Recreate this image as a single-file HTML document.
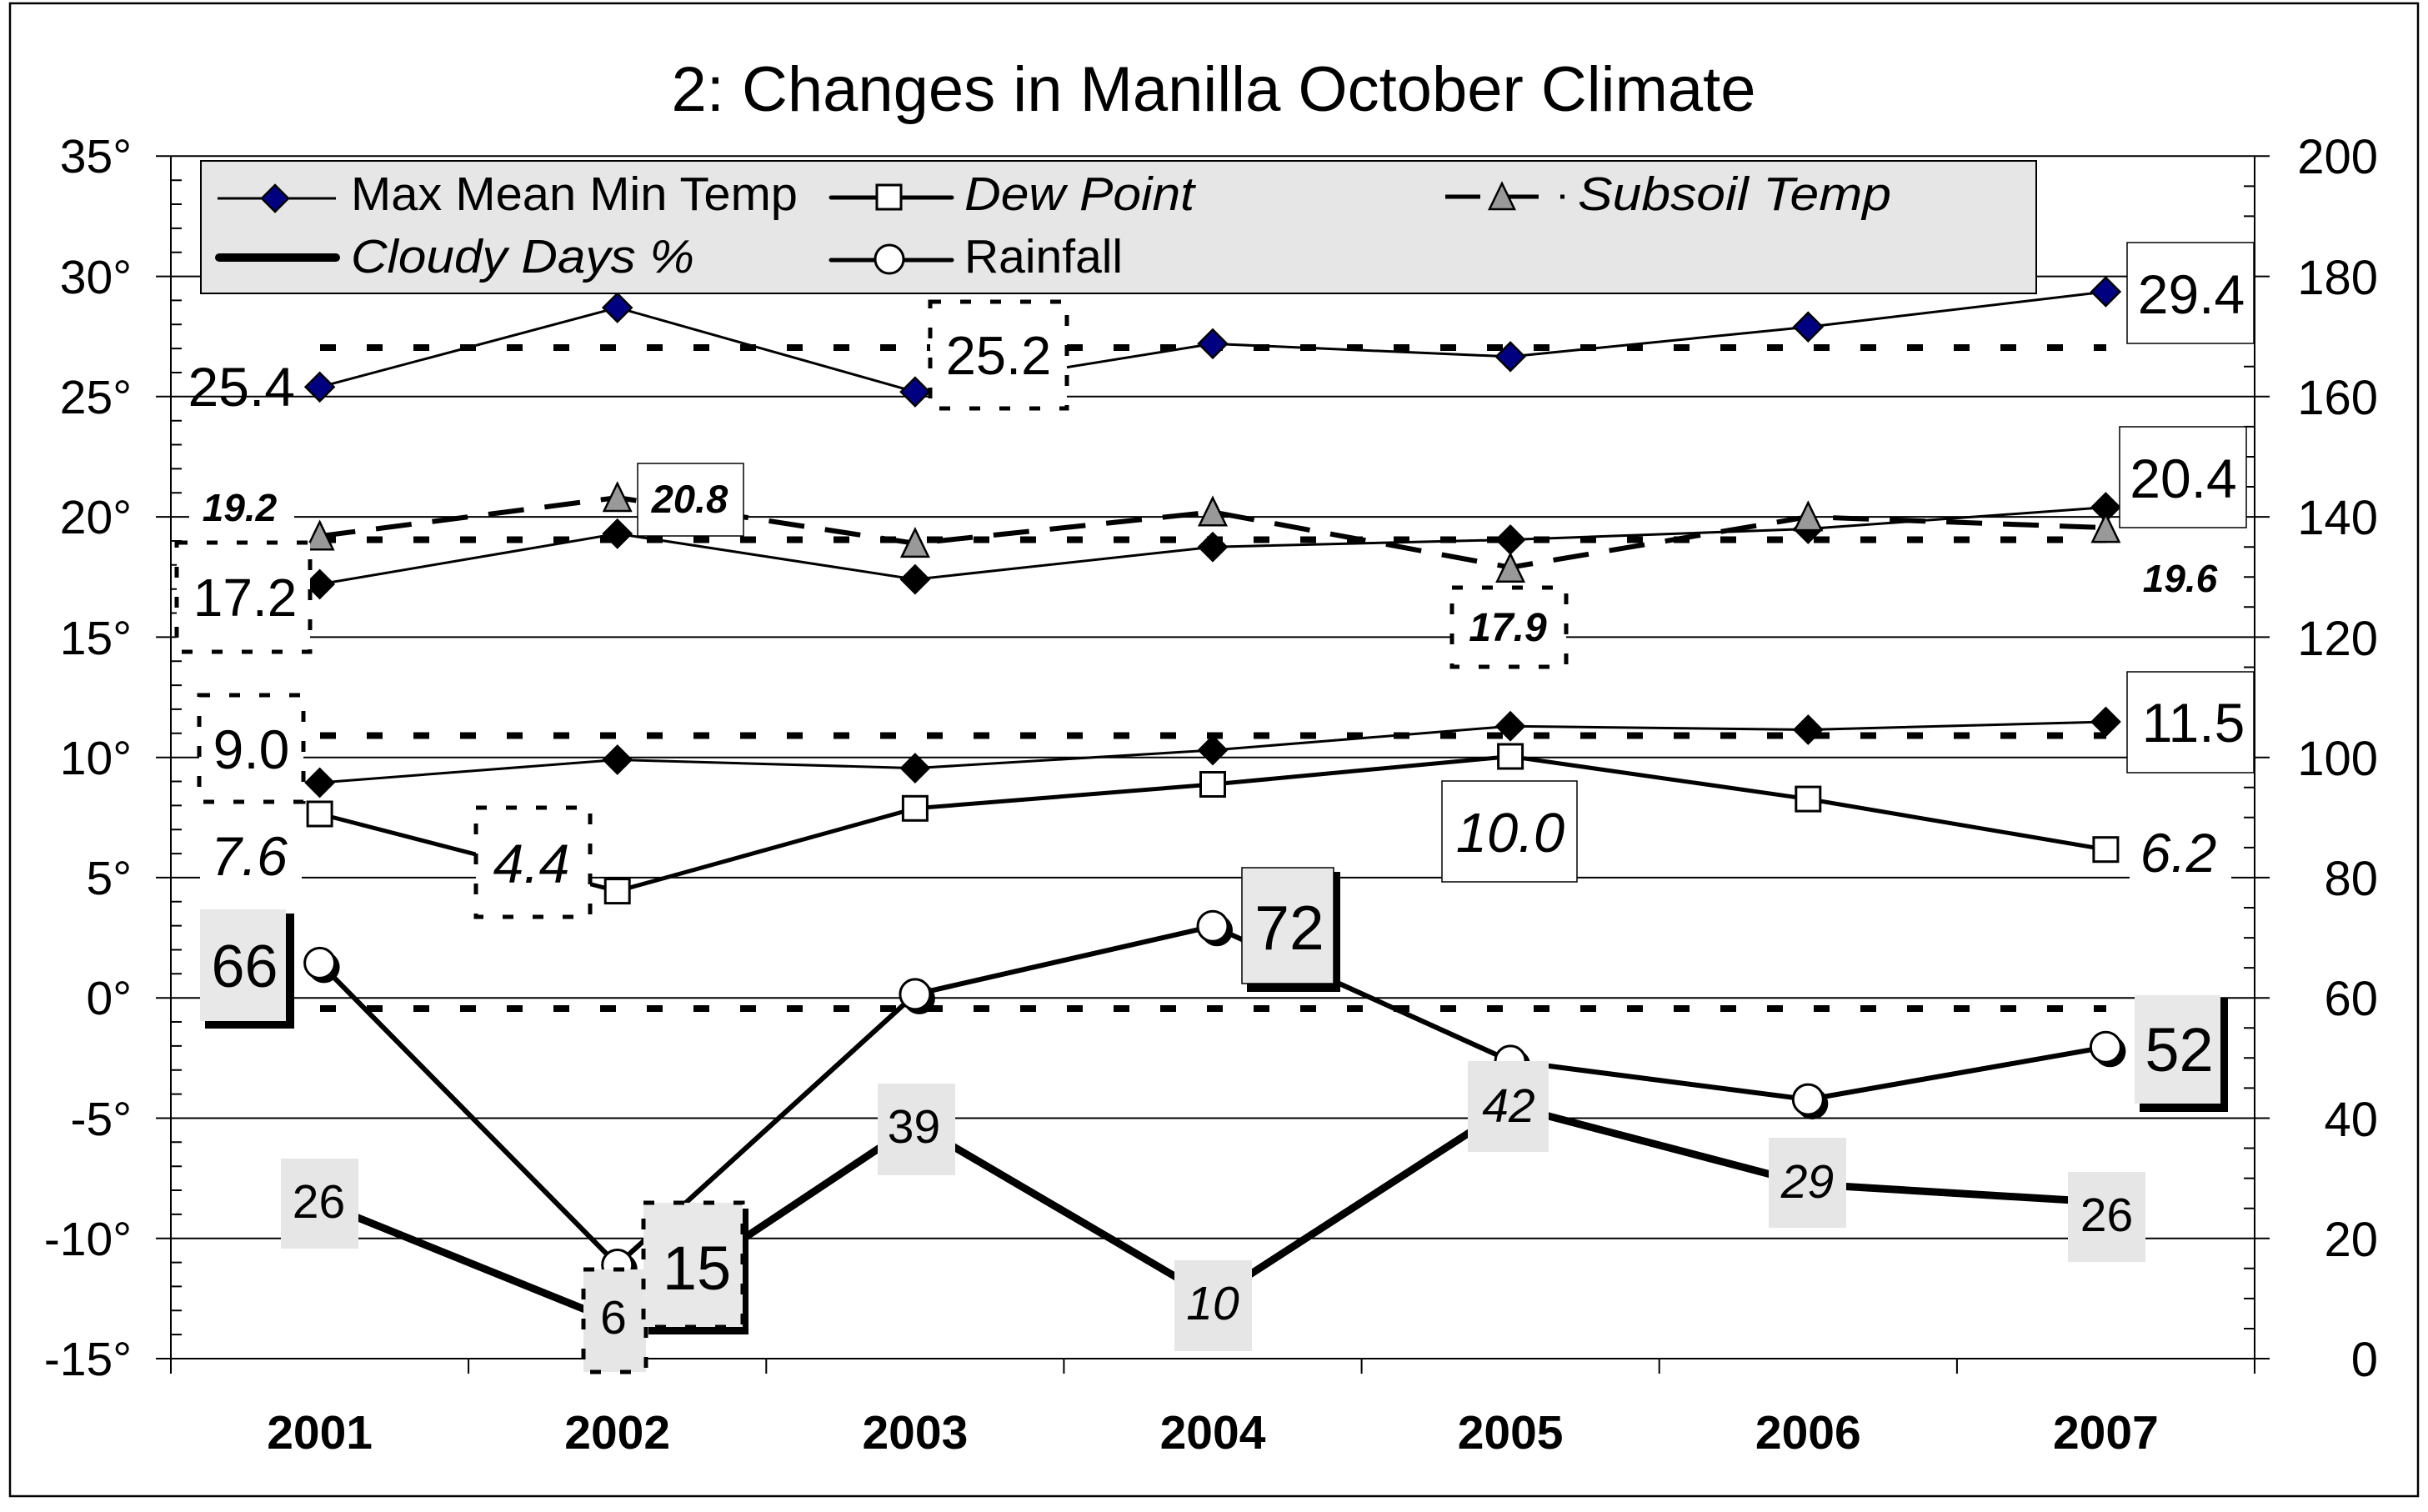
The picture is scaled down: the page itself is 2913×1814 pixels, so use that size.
<!DOCTYPE html>
<html>
<head>
<meta charset="utf-8">
<style>
html,body{margin:0;padding:0;background:#fff;}
svg{display:block;}
text{font-family:"Liberation Sans",Arial,sans-serif;fill:#000;}
</style>
</head>
<body>
<svg width="2913" height="1814" viewBox="0 0 2913 1814" xmlns="http://www.w3.org/2000/svg">
<rect x="0" y="0" width="2913" height="1814" fill="#fff"/>
<!-- outer border -->
<rect x="12" y="4" width="2889" height="1791" fill="none" stroke="#000" stroke-width="2.5"/>

<!-- title -->
<text x="1456" y="133" font-size="76" text-anchor="middle">2: Changes in Manilla October Climate</text>

<!-- gridlines (with major ticks) -->
<g stroke="#000" stroke-width="2" fill="none">
<path d="M187 187.3H2723 M187 331.6H2723 M187 475.8H2723 M187 620.1H2723 M187 764.4H2723 M187 908.7H2723 M187 1052.9H2723 M187 1197.2H2723 M187 1341.5H2723 M187 1485.7H2723 M187 1630H2723"/>
<path d="M205 187V1648 M2705 187V1648"/>
<path d="M205 216.2h13M205 245h13M205 273.9h13M205 302.7h13M205 360.4h13M205 389.3h13M205 418.1h13M205 447h13M205 504.7h13M205 533.5h13M205 562.4h13M205 591.3h13M205 649h13M205 677.8h13M205 706.7h13M205 735.5h13M205 793.2h13M205 822.1h13M205 850.9h13M205 879.8h13M205 937.5h13M205 966.4h13M205 995.2h13M205 1024.1h13M205 1081.8h13M205 1110.6h13M205 1139.5h13M205 1168.3h13M205 1226h13M205 1254.9h13M205 1283.8h13M205 1312.6h13M205 1370.3h13M205 1399.2h13M205 1428h13M205 1456.9h13M205 1514.6h13M205 1543.4h13M205 1572.3h13M205 1601.1h13"/>
<path d="M2692 223.4h13M2692 259.4h13M2692 295.5h13M2692 367.6h13M2692 403.7h13M2692 439.8h13M2692 511.9h13M2692 548h13M2692 584h13M2692 656.2h13M2692 692.3h13M2692 728.3h13M2692 800.5h13M2692 836.5h13M2692 872.6h13M2692 944.7h13M2692 980.8h13M2692 1016.9h13M2692 1089h13M2692 1125.1h13M2692 1161.1h13M2692 1233.3h13M2692 1269.3h13M2692 1305.4h13M2692 1377.5h13M2692 1413.6h13M2692 1449.7h13M2692 1521.8h13M2692 1557.9h13M2692 1594h13"/>
<path d="M562.1 1630v18M919.3 1630v18M1276.4 1630v18M1633.6 1630v18M1990.7 1630v18M2347.9 1630v18"/>
</g>

<!-- left axis labels -->
<g font-size="57" text-anchor="end">
<text x="158" y="207">35°</text>
<text x="158" y="352">30°</text>
<text x="158" y="496">25°</text>
<text x="158" y="640">20°</text>
<text x="158" y="785">15°</text>
<text x="158" y="929">10°</text>
<text x="158" y="1073">5°</text>
<text x="158" y="1217">0°</text>
<text x="158" y="1362">-5°</text>
<text x="158" y="1506">-10°</text>
<text x="158" y="1650">-15°</text>
</g>
<!-- right axis labels -->
<g font-size="58" text-anchor="end">
<text x="2853" y="208">200</text>
<text x="2853" y="353">180</text>
<text x="2853" y="497">160</text>
<text x="2853" y="641">140</text>
<text x="2853" y="786">120</text>
<text x="2853" y="930">100</text>
<text x="2853" y="1074">80</text>
<text x="2853" y="1218">60</text>
<text x="2853" y="1363">40</text>
<text x="2853" y="1507">20</text>
<text x="2853" y="1651">0</text>
</g>
<!-- x labels -->
<g font-size="57" font-weight="bold" text-anchor="middle">
<text x="383.6" y="1738">2001</text>
<text x="740.7" y="1738">2002</text>
<text x="1097.9" y="1738">2003</text>
<text x="1455" y="1738">2004</text>
<text x="1812.1" y="1738">2005</text>
<text x="2169.3" y="1738">2006</text>
<text x="2526.4" y="1738">2007</text>
</g>

<!-- average dotted lines -->
<g stroke="#000" stroke-width="8" stroke-dasharray="19 37" fill="none">
<path d="M384 417H2527"/>
<path d="M384 647.5H2527"/>
<path d="M384 882.5H2527"/>
<path d="M384 1210H2527"/>
</g>

<!-- cloudy days -->
<polyline fill="none" stroke="#000" stroke-width="9" stroke-linejoin="round" points="383.6,1442.4 740.7,1586.7 1097.9,1348.7 1455,1557.9 1812.1,1327 2169.3,1420.8 2526.4,1442.4"/>

<!-- rainfall -->
<polyline fill="none" stroke="#000" stroke-width="6" points="383.6,1155.4 740.7,1517.5 1097.9,1192.9 1455,1111.3 1812.1,1272.9 2169.3,1319.1 2526.4,1256.3"/>
<g>
<circle cx="388.6" cy="1160.4" r="19" fill="#000"/><circle cx="383.6" cy="1155.4" r="18" fill="#fff" stroke="#000" stroke-width="3"/>
<circle cx="745.7" cy="1522.5" r="19" fill="#000"/><circle cx="740.7" cy="1517.5" r="18" fill="#fff" stroke="#000" stroke-width="3"/>
<circle cx="1102.9" cy="1197.9" r="19" fill="#000"/><circle cx="1097.9" cy="1192.9" r="18" fill="#fff" stroke="#000" stroke-width="3"/>
<circle cx="1460" cy="1116.3" r="19" fill="#000"/><circle cx="1455" cy="1111.3" r="18" fill="#fff" stroke="#000" stroke-width="3"/>
<circle cx="1817.1" cy="1277.9" r="19" fill="#000"/><circle cx="1812.1" cy="1272.9" r="18" fill="#fff" stroke="#000" stroke-width="3"/>
<circle cx="2174.3" cy="1324.1" r="19" fill="#000"/><circle cx="2169.3" cy="1319.1" r="18" fill="#fff" stroke="#000" stroke-width="3"/>
<circle cx="2531.4" cy="1261.3" r="19" fill="#000"/><circle cx="2526.4" cy="1256.3" r="18" fill="#fff" stroke="#000" stroke-width="3"/>
</g>

<!-- dew point -->
<polyline fill="none" stroke="#000" stroke-width="5" points="383.6,976.5 740.7,1069.1 1097.9,969.8 1455,941 1812.1,907.5 2169.3,958.6 2526.4,1019.2"/>
<g fill="#fff" stroke="#000" stroke-width="3">
<rect x="369.1" y="962" width="29" height="29"/>
<rect x="726.2" y="1054.6" width="29" height="29"/>
<rect x="1083.4" y="955.3" width="29" height="29"/>
<rect x="1440.5" y="926.5" width="29" height="29"/>
<rect x="1797.6" y="893" width="29" height="29"/>
<rect x="2154.8" y="944.1" width="29" height="29"/>
<rect x="2511.9" y="1004.7" width="29" height="29"/>
</g>

<!-- min temp -->
<polyline fill="none" stroke="#000" stroke-width="3" points="383.6,939 740.7,911.5 1097.9,921.6 1455,900 1812.1,871.2 2169.3,875.5 2526.4,866"/>
<g fill="#000" stroke="#000" stroke-width="2">
<path d="M383.6 922L400.6 939L383.6 956L366.6 939Z"/>
<path d="M740.7 894.5L757.7 911.5L740.7 928.5L723.7 911.5Z"/>
<path d="M1097.9 904.6L1114.9 921.6L1097.9 938.6L1080.9 921.6Z"/>
<path d="M1455 883L1472 900L1455 917L1438 900Z"/>
<path d="M1812.1 854.2L1829.1 871.2L1812.1 888.2L1795.1 871.2Z"/>
<path d="M2169.3 858.5L2186.3 875.5L2169.3 892.5L2152.3 875.5Z"/>
<path d="M2526.4 849L2543.4 866L2526.4 883L2509.4 866Z"/>
</g>

<!-- mean temp -->
<polyline fill="none" stroke="#000" stroke-width="3" points="383.6,700.9 740.7,640.3 1097.9,695.1 1455,656.2 1812.1,647.5 2169.3,634.5 2526.4,608.6"/>
<g fill="#000" stroke="#000" stroke-width="2">
<path d="M383.6 683.9L400.6 700.9L383.6 717.9L366.6 700.9Z"/>
<path d="M740.7 623.3L757.7 640.3L740.7 657.3L723.7 640.3Z"/>
<path d="M1097.9 678.1L1114.9 695.1L1097.9 712.1L1080.9 695.1Z"/>
<path d="M1455 639.2L1472 656.2L1455 673.2L1438 656.2Z"/>
<path d="M1812.1 630.5L1829.1 647.5L1812.1 664.5L1795.1 647.5Z"/>
<path d="M2169.3 617.5L2186.3 634.5L2169.3 651.5L2152.3 634.5Z"/>
<path d="M2526.4 591.6L2543.4 608.6L2526.4 625.6L2509.4 608.6Z"/>
</g>

<!-- subsoil -->
<polyline fill="none" stroke="#000" stroke-width="6" stroke-dasharray="43 25" points="383.6,643.2 740.7,597 1097.9,651.9 1455,614.3 1812.1,680.7 2169.3,620.1 2526.4,633.1"/>
<g fill="#999" stroke="#000" stroke-width="2.5" stroke-linejoin="miter">
<path d="M383.6 626.2L399.6 659.2L367.6 659.2Z"/>
<path d="M740.7 580L756.7 613L724.7 613Z"/>
<path d="M1097.9 634.9L1113.9 667.9L1081.9 667.9Z"/>
<path d="M1455 597.3L1471 630.3L1439 630.3Z"/>
<path d="M1812.1 664.7L1828.1 697.7L1796.1 697.7Z"/>
<path d="M2169.3 603.1L2185.3 636.1L2153.3 636.1Z"/>
<path d="M2526.4 617.1L2542.4 650.1L2510.4 650.1Z"/>
</g>

<!-- max temp -->
<polyline fill="none" stroke="#000" stroke-width="3" points="383.6,464.3 740.7,369.1 1097.9,470.1 1455,412.4 1812.1,427.9 2169.3,392.2 2526.4,350"/>
<g fill="#000080" stroke="#000" stroke-width="2.5">
<path d="M383.6 447.3L400.6 464.3L383.6 481.3L366.6 464.3Z"/>
<path d="M740.7 352.1L757.7 369.1L740.7 386.1L723.7 369.1Z"/>
<path d="M1097.9 453.1L1114.9 470.1L1097.9 487.1L1080.9 470.1Z"/>
<path d="M1455 395.4L1472 412.4L1455 429.4L1438 412.4Z"/>
<path d="M1812.1 410.9L1829.1 427.9L1812.1 444.9L1795.1 427.9Z"/>
<path d="M2169.3 375.2L2186.3 392.2L2169.3 409.2L2152.3 392.2Z"/>
<path d="M2526.4 333L2543.4 350L2526.4 367L2509.4 350Z"/>
</g>

<!-- ============ data labels ============ -->
<!-- max -->
<text x="354" y="487" font-size="66" text-anchor="end">25.4</text>
<rect x="1116" y="362" width="164" height="128" fill="#fff" stroke="#000" stroke-width="5" stroke-dasharray="13 23"/>
<text x="1198" y="449" font-size="65" text-anchor="middle">25.2</text>
<rect x="2552" y="291" width="152" height="121" fill="#fff" stroke="#000" stroke-width="1.5"/>
<text x="2629" y="376" font-size="66" text-anchor="middle">29.4</text>

<!-- subsoil -->
<rect x="227" y="590" width="126" height="42" fill="#fff"/>
<text x="287.5" y="625" font-size="46" font-weight="bold" font-style="italic" text-anchor="middle">19.2</text>
<rect x="765" y="556" width="127" height="87" fill="#fff" stroke="#000" stroke-width="1.5"/>
<text x="827.5" y="615" font-size="47" font-weight="bold" font-style="italic" text-anchor="middle">20.8</text>
<rect x="1742" y="705" width="137" height="95" fill="#fff" stroke="#000" stroke-width="5" stroke-dasharray="13 23"/>
<text x="1809" y="769" font-size="48" font-weight="bold" font-style="italic" text-anchor="middle">17.9</text>
<text x="2615.5" y="710" font-size="46" font-weight="bold" font-style="italic" text-anchor="middle">19.6</text>

<!-- mean -->
<rect x="212" y="651" width="160" height="131" fill="#fff" stroke="#000" stroke-width="5" stroke-dasharray="13 23"/>
<text x="294" y="739" font-size="64" text-anchor="middle">17.2</text>
<rect x="2543" y="512" width="152" height="121" fill="#fff" stroke="#000" stroke-width="1.5"/>
<text x="2619.5" y="597" font-size="66" text-anchor="middle">20.4</text>

<!-- min -->
<rect x="239" y="834" width="125" height="128" fill="#fff" stroke="#000" stroke-width="5" stroke-dasharray="13 23"/>
<text x="301.5" y="922" font-size="66" text-anchor="middle">9.0</text>
<rect x="2552" y="806" width="152" height="121" fill="#fff" stroke="#000" stroke-width="1.5"/>
<text x="2631.5" y="890" font-size="66" text-anchor="middle">11.5</text>

<!-- dew -->
<rect x="240" y="992" width="122" height="72" fill="#fff"/>
<text x="299" y="1050" font-size="66" font-style="italic" text-anchor="middle">7.6</text>
<rect x="571" y="969" width="137" height="131" fill="#fff" stroke="#000" stroke-width="5" stroke-dasharray="13 23"/>
<text x="637.5" y="1059" font-size="66" font-style="italic" text-anchor="middle">4.4</text>
<rect x="1730" y="937" width="162" height="121" fill="#fff" stroke="#000" stroke-width="1.5"/>
<text x="1812" y="1022" font-size="67" font-style="italic" text-anchor="middle">10.0</text>
<rect x="2555" y="988" width="122" height="72" fill="#fff"/>
<text x="2613.5" y="1046" font-size="66" font-style="italic" text-anchor="middle">6.2</text>

<!-- cloudy labels -->
<g fill="#e6e6e6">
<rect x="337" y="1390" width="93" height="108"/>
<rect x="1053" y="1300" width="93" height="110"/>
<rect x="1409" y="1512" width="93" height="109"/>
<rect x="1761" y="1273" width="97" height="109"/>
<rect x="2122" y="1365" width="93" height="108"/>
<rect x="2481" y="1406" width="93" height="108"/>
</g>
<rect x="700" y="1523" width="75" height="123" fill="#e6e6e6" stroke="#000" stroke-width="5" stroke-dasharray="13 23"/>
<g font-size="57" text-anchor="middle">
<text x="382.5" y="1461">26</text>
<text x="736" y="1600">6</text>
<text x="1096.5" y="1371">39</text>
<text x="1455" y="1583" font-style="italic">10</text>
<text x="1810" y="1346" font-style="italic">42</text>
<text x="2168.5" y="1437" font-style="italic">29</text>
<text x="2527.5" y="1477">26</text>
</g>

<!-- rainfall labels -->
<rect x="246" y="1096" width="107" height="138" fill="#000"/>
<rect x="240" y="1091" width="103" height="134" fill="#e8e8e8"/>
<text x="293.5" y="1184" font-size="72" text-anchor="middle">66</text>

<rect x="1496" y="1046" width="112" height="144" fill="#000"/>
<rect x="1490" y="1041" width="110" height="139" fill="#e8e8e8" stroke="#000" stroke-width="1.5"/>
<text x="1547" y="1139" font-size="75" text-anchor="middle">72</text>

<rect x="2567" y="1197" width="106" height="137" fill="#000"/>
<rect x="2561" y="1194" width="103" height="130" fill="#e8e8e8"/>
<text x="2614.5" y="1285" font-size="74" text-anchor="middle">52</text>

<rect x="778" y="1450" width="120" height="151" fill="#000"/>
<rect x="772" y="1443" width="119" height="149" fill="#e8e8e8" stroke="#000" stroke-width="5" stroke-dasharray="13 23"/>
<text x="836" y="1547" font-size="74" text-anchor="middle">15</text>

<!-- ============ legend ============ -->
<rect x="241" y="193" width="2202" height="159" fill="#e6e6e6" stroke="#000" stroke-width="2"/>
<!-- max mean min -->
<path d="M261 238H403" stroke="#000" stroke-width="3"/>
<path d="M330 222L346 238L330 254L314 238Z" fill="#000080" stroke="#000" stroke-width="2.5"/>
<text x="421" y="252" font-size="57" textLength="536" lengthAdjust="spacingAndGlyphs">Max Mean Min Temp</text>
<!-- cloudy -->
<path d="M263 309H403" stroke="#000" stroke-width="10" stroke-linecap="round"/>
<text x="421" y="327" font-size="57" font-style="italic" textLength="412" lengthAdjust="spacingAndGlyphs">Cloudy Days %</text>
<!-- dew -->
<path d="M997 237H1142" stroke="#000" stroke-width="5" stroke-linecap="round"/>
<rect x="1052" y="222" width="29" height="29" fill="#fff" stroke="#000" stroke-width="3"/>
<text x="1157" y="252" font-size="57" font-style="italic" textLength="276" lengthAdjust="spacingAndGlyphs">Dew Point</text>
<!-- rainfall -->
<path d="M997 312H1142" stroke="#000" stroke-width="5" stroke-linecap="round"/>
<circle cx="1067" cy="311" r="17" fill="#fff" stroke="#000" stroke-width="3"/>
<text x="1157" y="327" font-size="57">Rainfall</text>
<!-- subsoil -->
<path d="M1734 236H1776 M1802 236H1846 M1872 236H1877" stroke="#000" stroke-width="5"/>
<path d="M1802 220L1817 251L1787 251Z" fill="#999" stroke="#000" stroke-width="2.5"/>
<text x="1893" y="252" font-size="57" font-style="italic" textLength="376" lengthAdjust="spacingAndGlyphs">Subsoil Temp</text>
</svg>
</body>
</html>
